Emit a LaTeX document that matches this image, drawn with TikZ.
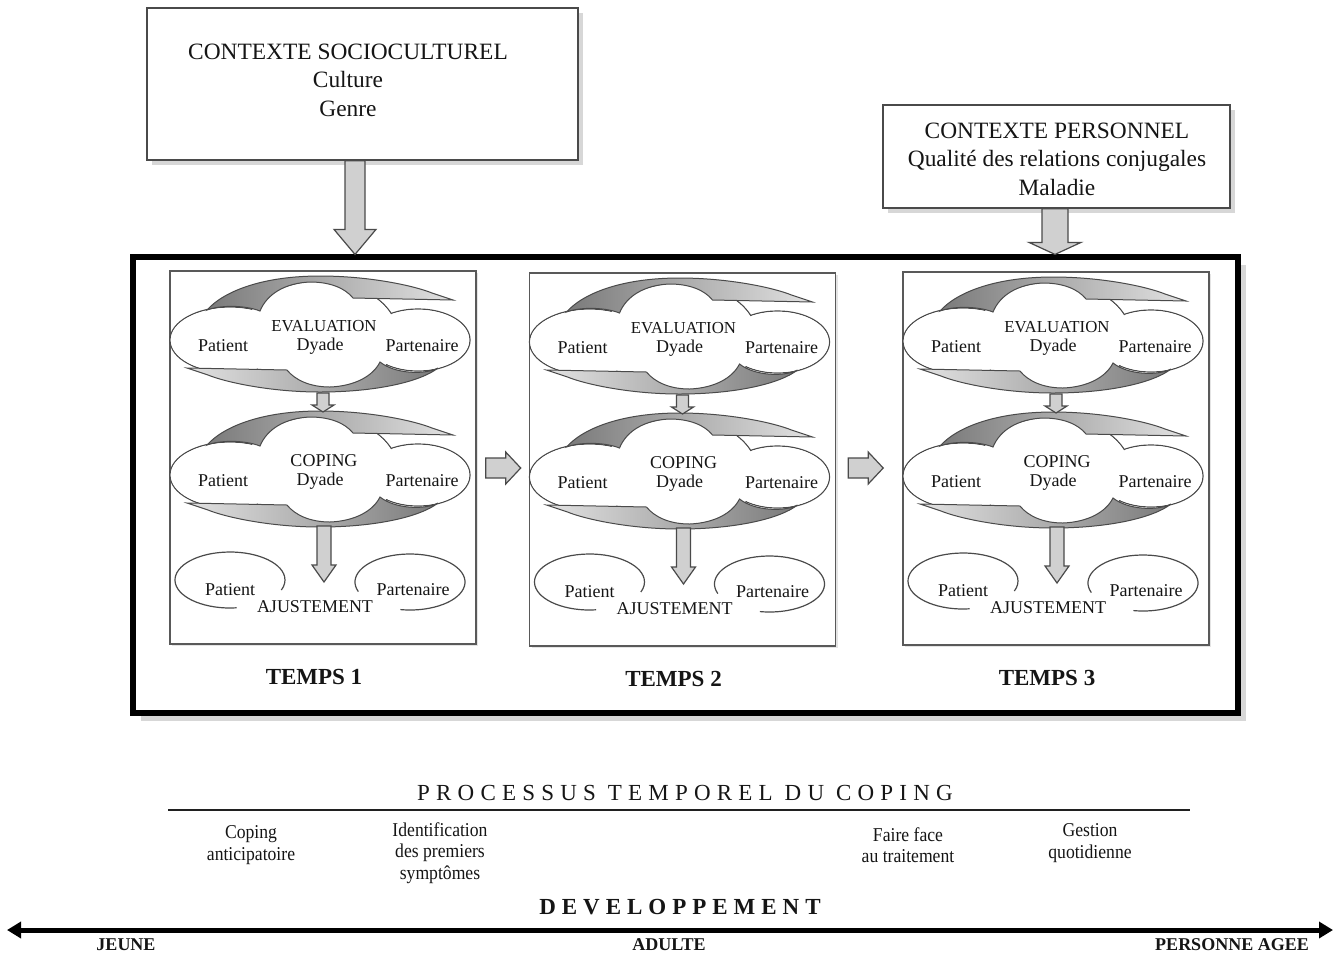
\documentclass[tikz,border=0pt]{standalone}
\usepackage{fontspec}
\setmainfont{Liberation Serif}
\newfontfamily\narrowserif[FakeStretch=0.9]{Liberation Serif}
\newfontfamily\spacedserif[LetterSpace=27]{Liberation Serif}
\newfontfamily\spacedbold[LetterSpace=26]{Liberation Serif}
\usetikzlibrary{calc,shadows,arrows.meta}

\definecolor{ink}{HTML}{151515}
\definecolor{edge}{HTML}{4A4A4A}
\definecolor{bandDark}{HTML}{7A7A7A}
\definecolor{bandLight}{HTML}{E2E2E2}
\definecolor{arrfill}{HTML}{D0D0D0}

% #1 start coordinate, #2 tip coordinate, #3 shaft half width, #4 head half width, #5 head length
\newcommand\blockdown[5]{%
  \path[blockarr] ($(#1)+(-#3,0)$) -- ($(#2)+(-#3,-#5)$) -- ($(#2)+(-#4,-#5)$) -- (#2)
    -- ($(#2)+(#4,-#5)$) -- ($(#2)+(#3,-#5)$) -- ($(#1)+(#3,0)$) -- cycle;}
\newcommand\blockright[5]{%
  \path[blockarr] ($(#1)+(0,-#3)$) -- ($(#2)+(-#5,-#3)$) -- ($(#2)+(-#5,-#4)$) -- (#2)
    -- ($(#2)+(-#5,#4)$) -- ($(#2)+(-#5,#3)$) -- ($(#1)+(0,#3)$) -- cycle;}

\begin{document}
\begin{tikzpicture}[x=0.5pt,y=-0.5pt,
  every node/.style={text=ink},
  ctxbox/.style={draw=edge, line width=0.8pt, fill=white,
    drop shadow={shadow xshift=2.5pt,shadow yshift=-2.5pt,fill=gray!70,opacity=0.45}},
  ctxtext/.style={font=\fontsize{11.7}{14.2}\selectfont, align=center, inner sep=0},
  bigframe/.style={draw=black, line width=2.6pt, fill=white,
    drop shadow={shadow xshift=4pt,shadow yshift=-4pt,fill=gray!70,opacity=0.45}},
  panel/.style={draw=gray!70!black, line width=0.7pt, fill=white, inner sep=0,
    minimum width=153pt, minimum height=186.5pt,
    drop shadow={shadow xshift=1.2pt,shadow yshift=-1.2pt,fill=gray!60,opacity=0.35}},
  blockarr/.style={draw=edge, line width=0.6pt, fill=arrfill},
  band/.style={draw=edge, line width=0.5pt},
  cloudline/.style={draw=edge, line width=0.6pt},
  lbl/.style={font=\fontsize{9}{10}\selectfont, inner sep=0},
  temps/.style={font=\fontsize{11.5}{14}\selectfont\bfseries, inner sep=0},
  small/.style={font=\narrowserif\fontsize{9.8}{10.8}\selectfont, align=center, inner sep=0},
  axislbl/.style={font=\fontsize{9}{10}\selectfont\bfseries, inner sep=0},
  pics/dyad/.style={code={
    \path[cloudline, fill=white] (-90,0) ellipse [x radius=60, y radius=33];
    \path[cloudline, fill=white] (98,0) ellipse [x radius=52, y radius=31];
    \path[cloudline, fill=white] (0,-4) ellipse [x radius=78, y radius=55];
    \fill[white] (-90,0) ellipse [x radius=59.2, y radius=32.2]
                 (98,0) ellipse [x radius=51.2, y radius=30.2]
                 (0,-4) ellipse [x radius=77.2, y radius=54.2];
    \path[band, left color=bandDark, right color=bandLight]
      (-113,-30) .. controls (-95,-50) and (-55,-64) .. (0,-64)
      .. controls (50,-64) and (95,-54) .. (112,-47) -- (133,-40) -- (33,-42)
      .. controls (25,-52) and (10,-58) .. (-10,-58)
      .. controls (-35,-57) and (-53,-46) .. (-60,-29)
      .. controls (-75,-35) and (-100,-35) .. (-113,-30) -- cycle;
    \path[band, left color=bandLight, right color=bandDark]
      (118,28) .. controls (100,42) and (55,52) .. (0,52)
      .. controls (-50,52) and (-95,42) .. (-112,35) -- (-133,28) -- (-33,30)
      .. controls (-25,40) and (-10,47) .. (10,47)
      .. controls (35,46) and (53,36) .. (60,22)
      .. controls (75,34) and (105,35) .. (118,28) -- cycle;
    \node[lbl] (-title) at (4,-14) {#1};
    \node[lbl] (-dyade) at (0,6) {Dyade};
    \node[lbl] (-pat) at (-97,6) {Patient};
    \node[lbl] (-par) at (102,6) {Partenaire};
  }}
]
\useasboundingbox (0,0) rectangle (1334,955);

% context boxes
\node[ctxbox, minimum width=215.5pt, minimum height=76pt] (box1) at (362.5,84) {};
\node[ctxtext] (box1txt) at (348,80) {CONTEXTE SOCIOCULTUREL\\Culture\\Genre};
\node[ctxbox, minimum width=173.5pt, minimum height=51.5pt] (box2) at (1056.5,156.5) {};
\node[ctxtext] (box2txt) at (1057,159) {CONTEXTE PERSONNEL\\Qualité des relations conjugales\\Maladie};

% main frame
\node[bigframe, minimum width=552.5pt, minimum height=228pt] (frame) at (685.5,485) {};

% arrows from the contexts
\coordinate (b1s) at ($(box1.south)+(-7.5,0)$);
\coordinate (b1t) at (b1s |- frame.north);
\blockdown{b1s}{b1t}{10}{21}{25}
\coordinate (b2s) at ($(box2.south)+(-1.5,0)$);
\coordinate (b2t) at (b2s |- frame.north);
\blockdown{b2s}{b2t}{13}{26}{12}

% panels
\foreach \i/\cx/\cy in {1/323/457.5, 2/682.5/459.5, 3/1056/458.5}{
  \node[panel] (p\i) at (\cx,\cy) {};
  \pic (ev\i) at ($(p\i.center)+(-3,-117.5)$) {dyad={\fontsize{8.4}{10}\selectfont EVALUATION}};
  \pic (co\i) at ($(p\i.center)+(-3,17.5)$) {dyad={COPING}};
  % evaluation -> coping
  \coordinate (sa\i) at ($(p\i.center)+(0,-64.5)$);
  \coordinate (ta\i) at ($(p\i.center)+(0,-45.5)$);
  \blockdown{sa\i}{ta\i}{6}{11}{7}
  % coping -> ajustement
  \coordinate (sb\i) at ($(p\i.center)+(1,68.5)$);
  \coordinate (tb\i) at ($(p\i.center)+(1,124.5)$);
  \blockdown{sb\i}{tb\i}{7}{12}{17}
  % ajustement
  \draw[cloudline] ($(p\i.center)+(-93,122.5)+({55*cos(83)},{28*sin(83)})$)
    arc[start angle=83, end angle=381, x radius=55, y radius=28];
  \draw[cloudline] ($(p\i.center)+(87,124.5)+({55*cos(160)},{28*sin(160)})$)
    arc[start angle=160, end angle=460, x radius=55, y radius=28];
  \node[lbl] (aj\i pat) at ($(p\i.center)+(-93,132.5)$) {Patient};
  \node[lbl] (aj\i par) at ($(p\i.center)+(90,132.5)$) {Partenaire};
  \node[lbl] (aj\i) at ($(p\i.center)+(-8,149.5)$) {AJUSTEMENT};
  \node[temps] (tm\i) at ($(p\i.south)+(-9,32)$) {TEMPS \i};
}

% arrows between panels
\coordinate (h1s) at ($(p1.east)+(9,10.5)$);
\coordinate (h1t) at ($(h1s)+(35,0)$);
\blockright{h1s}{h1t}{10}{16}{15}
\coordinate (h2s) at ($(p2.east)+(12,8.5)$);
\coordinate (h2t) at ($(h2s)+(35,0)$);
\blockright{h2s}{h2t}{10}{16}{15}

% coping process line
\node[font=\spacedserif\fontsize{11.5}{14}\selectfont, inner sep=0] (proc) at (685,793) {PROCESSUS TEMPOREL DU COPING};
\coordinate (plL) at (168,810);
\coordinate (plR) at (1190,810);
\draw[line width=1pt, draw=gray!25!black] (plL) -- (plR);

\node[small] (s1) at (251,845) {Coping\\anticipatoire};
\node[small] (s2) at (440,853) {Identification\\des premiers\\symptômes};
\node[small] (s3) at (908,845) {Faire face\\au traitement};
\node[small] (s4) at (1090,843) {Gestion\\quotidienne};

% development axis
\node[font=\spacedbold\bfseries\fontsize{11.5}{14}\selectfont, inner sep=0] (dev) at (680,907) {DEVELOPPEMENT};
\coordinate (axL) at (7,930);
\coordinate (axR) at (1333,930);
\draw[line width=2.5pt, {Triangle[length=7pt,width=8pt]}-{Triangle[length=7pt,width=8pt]}] (axL) -- (axR);
\node[axislbl] (jeune) at (126,945) {JEUNE};
\node[axislbl] (adulte) at (669,945) {ADULTE};
\node[axislbl] (agee) at (1232,945) {PERSONNE AGEE};
\end{tikzpicture}
\end{document}
